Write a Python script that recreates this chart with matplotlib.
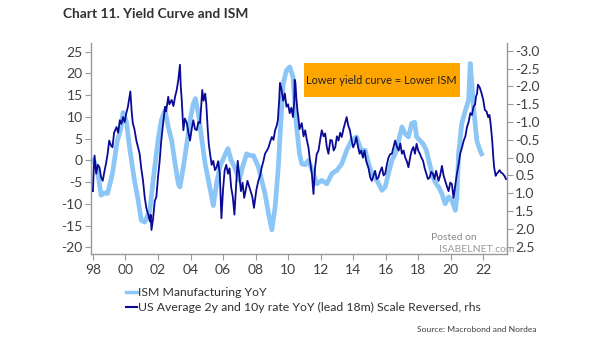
import matplotlib
matplotlib.use("Agg")
import matplotlib.pyplot as plt
from matplotlib.lines import Line2D
from matplotlib.patches import Rectangle

# ---- data (year as decimal) ----
ism_dates = [1998.0, 1998.1, 1998.3, 1998.5, 1998.7, 1998.9, 1999.2, 1999.5, 1999.7, 1999.85,
             2000.05, 2000.25, 2000.55, 2000.77, 2000.97, 2001.18, 2001.5, 2001.7, 2002.0, 2002.2,
             2002.43, 2002.63, 2002.84, 2003.05, 2003.25, 2003.35, 2003.56, 2003.77, 2003.97, 2004.17,
             2004.3, 2004.48, 2004.7, 2004.9, 2005.1, 2005.3, 2005.4, 2005.6, 2005.8, 2006.1,
             2006.3, 2006.5, 2006.7, 2007.0, 2007.2, 2007.45, 2007.66, 2007.87, 2008.17, 2008.38,
             2008.58, 2008.8, 2009.0, 2009.2, 2009.4, 2009.5, 2009.7, 2009.9, 2010.1, 2010.3,
             2010.5, 2010.7, 2010.84, 2011.05, 2011.25, 2011.55, 2011.77, 2012.07, 2012.38, 2012.7,
             2013.0, 2013.3, 2013.6, 2013.9, 2014.2, 2014.5, 2014.74, 2014.95, 2015.15, 2015.46,
             2015.77, 2015.97, 2016.17, 2016.38, 2016.58, 2016.8, 2017.0, 2017.2, 2017.4, 2017.6,
             2017.78, 2017.9, 2018.1, 2018.3, 2018.5, 2018.7, 2018.9, 2019.1, 2019.25, 2019.46,
             2019.66, 2019.87, 2020.07, 2020.28, 2020.38, 2020.48, 2020.68, 2020.9, 2021.1, 2021.2,
             2021.3, 2021.4, 2021.5, 2021.6, 2021.8, 2021.9]
ism_values = [0.0, -0.5, -3.0, -8.0, -7.5, -7.6, -3.0, 4.6, 7.0, 11.0,
              9.0, 3.0, -4.6, -9.0, -13.8, -14.2, -11.5, -4.6, 4.6, 9.2,
              11.5, 7.7, 4.6, -0.8, -5.4, -6.1, -1.5, 3.8, 9.2, 13.0,
              14.2, 10.8, 4.6, -0.8, -4.6, -8.4, -10.4, -5.4, -1.5, 1.1,
              2.7, 0.0, -1.5, -4.6, -1.5, 1.5, 1.1, 1.1, -1.5, -4.6,
              -7.7, -12.3, -16.0, -10.8, -1.5, 5.4, 17.7, 20.7, 21.5, 19.2,
              8.5, 1.5, -0.8, -1.0, 0.0, -3.0, -5.4, -4.6, -5.4, -3.0,
              -2.3, -0.8, 2.3, 4.6, 5.4, 2.3, 2.3, -0.8, -3.0, -4.6,
              -6.9, -6.1, -3.0, 0.0, 1.5, 4.6, 7.7, 6.1, 5.4, 8.5,
              8.8, 5.4, 4.6, 3.8, 2.3, -0.8, -3.8, -5.4, -6.1, -7.7,
              -10.0, -8.4, -9.2, -11.5, -8.4, 1.5, 8.5, 11.5, 13.8, 22.3,
              17.7, 12.3, 8.5, 4.6, 2.3, 1.5]

curve_dates = [1998.0, 1998.05, 1998.1, 1998.2, 1998.3, 1998.4, 1998.5, 1998.6, 1998.7, 1998.8,
               1998.9, 1999.0, 1999.1, 1999.2, 1999.3, 1999.45, 1999.55, 1999.65, 1999.75, 1999.85,
               1999.95, 2000.05, 2000.15, 2000.3, 2000.38, 2000.45, 2000.55, 2000.67, 2000.77, 2000.87,
               2000.97, 2001.08, 2001.18, 2001.28, 2001.4, 2001.5, 2001.55, 2001.6, 2001.7, 2001.8,
               2001.9, 2002.0, 2002.1, 2002.2, 2002.3, 2002.43, 2002.5, 2002.63, 2002.7, 2002.84,
               2002.95, 2003.05, 2003.15, 2003.25, 2003.35, 2003.4, 2003.46, 2003.56, 2003.65, 2003.77,
               2003.87, 2003.97, 2004.07, 2004.17, 2004.28, 2004.38, 2004.48, 2004.58, 2004.65, 2004.72,
               2004.8, 2004.9, 2004.97, 2005.05, 2005.12, 2005.2, 2005.3, 2005.4, 2005.5, 2005.6,
               2005.7, 2005.8, 2005.9, 2006.0, 2006.1, 2006.2, 2006.3, 2006.4, 2006.5, 2006.6,
               2006.7, 2006.8, 2006.9, 2007.0, 2007.1, 2007.2, 2007.3, 2007.4, 2007.5, 2007.6,
               2007.7, 2007.8, 2007.9, 2008.05, 2008.17, 2008.28, 2008.38, 2008.48, 2008.58, 2008.7,
               2008.8, 2008.9, 2009.0, 2009.1, 2009.2, 2009.3, 2009.37, 2009.45, 2009.5, 2009.6,
               2009.7, 2009.8, 2009.9, 2010.0, 2010.1, 2010.2, 2010.3, 2010.38, 2010.4, 2010.45,
               2010.5, 2010.58, 2010.63, 2010.7, 2010.84, 2010.95, 2011.05, 2011.15, 2011.25, 2011.35,
               2011.46, 2011.56, 2011.66, 2011.76, 2011.87, 2011.97, 2012.07, 2012.18, 2012.28, 2012.38,
               2012.48, 2012.6, 2012.7, 2012.8, 2012.9, 2013.0, 2013.1, 2013.2, 2013.3, 2013.4,
               2013.5, 2013.6, 2013.7, 2013.8, 2013.9, 2014.0, 2014.1, 2014.2, 2014.3, 2014.4,
               2014.5, 2014.6, 2014.7, 2014.8, 2014.95, 2015.05, 2015.15, 2015.25, 2015.35, 2015.45,
               2015.55, 2015.65, 2015.77, 2015.87, 2015.97, 2016.07, 2016.17, 2016.28, 2016.38, 2016.48,
               2016.58, 2016.7, 2016.8, 2016.9, 2017.0, 2017.1, 2017.2, 2017.3, 2017.4, 2017.5,
               2017.6, 2017.7, 2017.8, 2017.9, 2018.0, 2018.1, 2018.2, 2018.3, 2018.4, 2018.5,
               2018.6, 2018.7, 2018.8, 2018.9, 2019.0, 2019.1, 2019.25, 2019.35, 2019.46, 2019.56,
               2019.66, 2019.76, 2019.87, 2019.97, 2020.07, 2020.17, 2020.27, 2020.38, 2020.48, 2020.58,
               2020.7, 2020.8, 2020.9, 2021.0, 2021.1, 2021.2, 2021.3, 2021.4, 2021.5, 2021.55,
               2021.62, 2021.67, 2021.75, 2021.8, 2021.9, 2022.0, 2022.1, 2022.2, 2022.3, 2022.38,
               2022.45, 2022.55, 2022.62, 2022.67, 2022.76, 2022.83, 2022.9, 2023.0, 2023.1, 2023.2,
               2023.3, 2023.4]
curve_values = [0.94, 0.3, -0.06, 0.45, 0.2, 0.27, 0.55, 0.65, 0.4, 0.17,
                -0.1, -0.48, -0.35, -0.29, -0.7, -0.86, -0.7, -1.05, -0.95, -1.14,
                -1.0, -1.25, -1.43, -1.86, -1.3, -0.97, -0.8, -0.48, -0.3, -0.11,
                0.3, 0.65, 1.1, 1.41, 1.6, 1.79, 1.6, 2.03, 1.7, 1.22,
                1.1, 0.55, 0.1, -0.48, -0.9, -1.43, -1.3, -1.71, -1.5, -1.62,
                -1.45, -1.71, -1.9, -2.19, -2.61, -2.0, -1.62, -0.77, -1.1, -0.97,
                -0.7, -0.48, -0.8, -1.05, -0.8, -0.77, -1.0, -0.97, -1.4, -1.9,
                -1.6, -1.8, -1.5, -0.86, -0.4, -0.11, 0.2, 0.09, 0.35, 0.27,
                0.1, 0.45, 1.7, 0.9, 0.35, 0.2, 0.45, 0.3, 0.84, 1.1,
                1.6, 0.8, 0.09, 0.5, 0.94, 0.7, 1.13, 0.9, 0.65, 0.8,
                0.94, 1.1, 1.41, 0.9, 0.65, 0.5, 0.27, 0.1, -0.11, -0.2,
                -0.29, -0.45, -0.58, -0.5, -0.77, -0.9, -1.05, -1.6, -2.1, -1.9,
                -1.6, -1.8, -1.43, -1.5, -1.25, -1.4, -1.14, -1.6, -2.19, -2.1,
                -1.71, -1.3, -1.14, -0.8, -0.97, -0.6, -0.77, -0.5, -0.29, 0.1,
                0.45, 1.02, 0.27, -0.1, -0.2, -0.5, -0.77, -0.6, -0.68, -0.3,
                -0.11, -0.5, -0.48, -0.2, -0.29, -0.6, -0.48, -0.7, -0.58, -0.8,
                -0.97, -1.14, -0.9, -0.77, -0.5, -0.29, -0.4, -0.58, -0.3, -0.11,
                -0.2, 0.0, -0.2, 0.09, 0.3, 0.56, 0.65, 0.5, 0.37, 0.6,
                0.56, 0.4, 0.27, 0.5, 0.45, 0.2, 0.0, -0.1, -0.11, -0.3,
                -0.48, -0.3, -0.2, -0.4, -0.11, -0.2, 0.0, 0.1, 0.27, 0.0,
                -0.2, -0.3, -0.11, -0.39, -0.2, -0.11, 0.0, 0.09, 0.3, 0.45,
                0.6, 0.56, 0.4, 0.45, 0.6, 0.37, 0.65, 0.5, 0.23, 0.5,
                0.65, 0.8, 0.94, 0.7, 0.74, 1.13, 0.8, 0.45, 0.2, -0.11,
                -0.3, -0.48, -0.6, -0.86, -1.0, -1.25, -1.2, -1.43, -1.5, -1.71,
                -1.8, -2.05, -2.0, -1.95, -1.8, -1.62, -1.34, -1.3, -1.14, -1.2,
                -0.97, -0.48, 0.0, 0.27, 0.51, 0.45, 0.42, 0.35, 0.42, 0.45,
                0.51, 0.6]

x_ticks = [1998, 2000, 2002, 2004, 2006, 2008, 2010, 2012, 2014, 2016, 2018, 2020, 2022]
x_labels = ["98", "00", "02", "04", "06", "08", "10", "12", "14", "16", "18", "20", "22"]
left_ticks = [25, 20, 15, 10, 5, 0, -5, -10, -15, -20]
right_ticks = [-3.0, -2.5, -2.0, -1.5, -1.0, -0.5, 0.0, 0.5, 1.0, 1.5, 2.0, 2.5]

title = "Chart 11. Yield Curve and ISM"
ism_label = "ISM Manufacturing YoY"
curve_label = "US Average 2y and 10y rate YoY (lead 18m) Scale Reversed, rhs"
source = "Source: Macrobond and Nordea"
note = "Lower yield curve = Lower ISM"

# ---- style ----
plt.rcParams['font.family'] = ['Lato', 'DejaVu Sans']
LIGHT = '#8cc6f6'
DARK = '#0a0a96'
SPINE = '#9a9a9a'
TXT = '#404040'

fig = plt.figure(figsize=(6.05, 3.41), dpi=100)
ax = fig.add_axes([91/605, 1-254/341, (507-91)/605, (254-43)/341])
ax2 = ax.twinx()

ax.plot(ism_dates, ism_values, color=LIGHT, lw=3.4, solid_joinstyle='round', zorder=2)
ax2.plot(curve_dates, curve_values, color=DARK, lw=1.3, zorder=3)

ax.set_xlim(1997.88, 2023.46)
ax.set_ylim(-21.54, 27.0)
ax2.set_ylim(2.705, -3.22)

ax.set_xticks(x_ticks)
ax.set_xticklabels(x_labels)
ax.set_yticks(left_ticks)
ax.set_yticklabels([f"{v:g}" for v in left_ticks])
ax2.set_yticks(right_ticks)
ax2.set_yticklabels([f"{v:.1f}" for v in right_ticks])

for a in (ax, ax2):
    for s in a.spines.values():
        s.set_visible(False)
    a.tick_params(colors=SPINE, labelcolor=TXT, labelsize=10, length=4, width=0.8)
ax.spines['left'].set_visible(True)
ax.spines['bottom'].set_visible(True)
ax2.spines['right'].set_visible(True)
for s in (ax.spines['left'], ax.spines['bottom'], ax2.spines['right']):
    s.set_color(SPINE)
    s.set_linewidth(1.0)
ax.tick_params(axis='y', pad=2)
ax2.tick_params(axis='y', pad=2)
ax.tick_params(axis='x', pad=3)

# note box
ax.add_patch(Rectangle(((304-91)/416, (254-97)/211), (460-304)/416, (97-63)/211,
                       transform=ax.transAxes, facecolor='#ffa500', edgecolor='none', zorder=5))
ax.text((381-91)/416, (254-80)/211, note, transform=ax.transAxes, ha='center', va='center',
        fontsize=7.9, color='#202020', zorder=6)

# title
fig.text(63/605, 1-14/341, title, ha='left', va='center', fontsize=9.9, fontweight='bold', color='#303030')

# legend
handles = [Line2D([], [], color=LIGHT, lw=2.5), Line2D([], [], color=DARK, lw=1.5)]
fig.legend(handles, [ism_label, curve_label], loc='upper left',
           bbox_to_anchor=(120/605, 1-281/341), frameon=False, fontsize=8.8,
           handlelength=0.9, handletextpad=0.08, labelspacing=0.35, borderpad=0,
           labelcolor='#303030')

fig.text(537/605, 1-329/341, source, ha='right', va='center', fontsize=6.1, color='#404040')

# watermark
fig.text(454/605, 1-238/341, "Posted on", ha='center', va='center', fontsize=7.5, color='#8a8a8a')
fig.text(477/605, 1-250/341, "ISABELNET.com", ha='center', va='center', fontsize=7.5, color='#9a9a9a')

fig.savefig('out.png', dpi=100)
